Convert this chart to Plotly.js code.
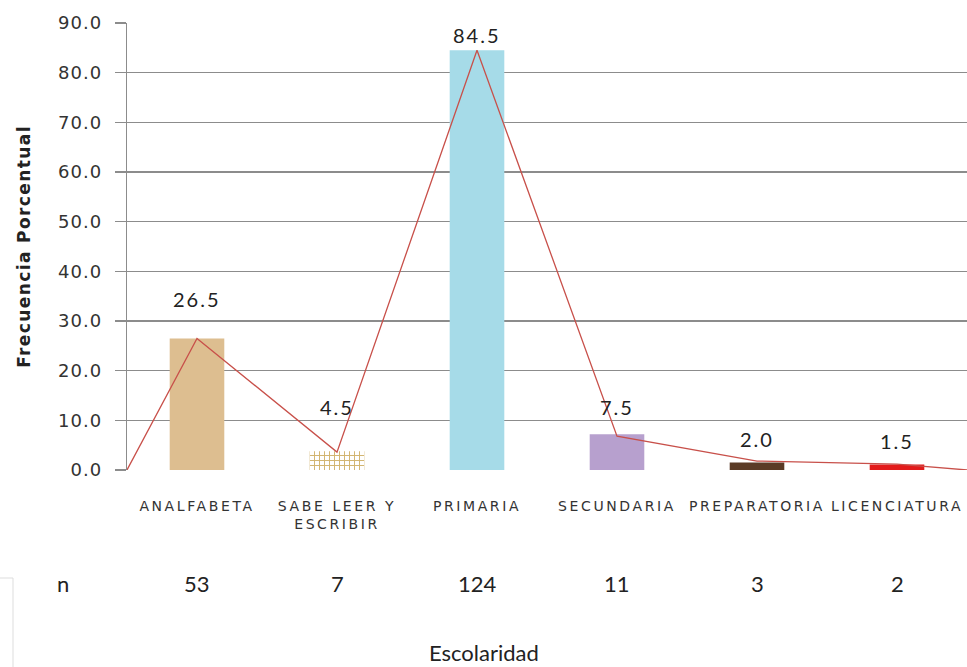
<!DOCTYPE html>
<html><head><meta charset="utf-8">
<script src="https://cdn.plot.ly/plotly-3.0.1.min.js"></script>
<style>
html,body{margin:0;padding:0;background:#fff}
#chart{width:967px;height:667px}
#chart .xtick text{letter-spacing:2.6px}
#chart .ytick text{letter-spacing:1px}
#chart .ytitle{letter-spacing:1.4px}
#chart .annotation.lbl text{letter-spacing:2px}
</style>
</head><body><div id="chart"></div>
<script>
// Data
const categories = ["ANALFABETA", "SABE LEER Y<br>ESCRIBIR", "PRIMARIA", "SECUNDARIA", "PREPARATORIA", "LICENCIATURA"];
const barHeights = [26.5, 3.8, 84.5, 7.2, 1.5, 1.1];
const labelText = ["26.5", "4.5", "84.5", "7.5", "2.0", "1.5"];
const nValues = ["53", "7", "124", "11", "3", "2"];
const polygonX = [-0.5, 0, 1, 2, 3, 4, 5, 5.5];
const polygonY = [0, 26.5, 3.6, 84.5, 6.8, 1.8, 1.2, 0];

const xIdx = categories.map((c, i) => i);
const barColors = ["#DDBE90", "#D2B46E", "#A6DBE8", "#B7A0CE", "#5B3B26", "#E31B1B"];
const patShapes = ["", "+", "", "", "", ""];
const patFg = ["#C9A676", "#6B5020", "#7FC6D8", "#B7A0CE", "#3A2415", "#E31B1B"];
const labelShift = [25, 30, 1, 13, 10, 10];

const fontLabel = "Lato, Open Sans, sans-serif";
const fontVerd = "DejaVu Sans, Verdana, sans-serif";
const fontTick = "DejaVu Sans, sans-serif";

const traces = [
  {
    type: "bar", x: xIdx, y: barHeights, width: 0.39,
    marker: {color: barColors, line: {width: 0},
      pattern: {shape: patShapes, fgcolor: patFg, bgcolor: barColors, size: 5, solidity: 0.35}},
    hoverinfo: "skip", showlegend: false
  },
  {
    type: "scatter", mode: "lines", x: polygonX, y: polygonY,
    line: {color: "#C8504A", width: 1.3}, cliponaxis: false,
    hoverinfo: "skip", showlegend: false
  }
];

const annotations = [];
xIdx.forEach(i => {
  annotations.push({x: i, y: barHeights[i], xref: "x", yref: "y", text: labelText[i],
    showarrow: false, yanchor: "bottom", yshift: labelShift[i],
    font: {family: fontLabel, size: 20, color: "#222"}});
  annotations.push({x: i, y: 0, xref: "x", yref: "paper", text: nValues[i],
    showarrow: false, yanchor: "middle", yshift: -113,
    font: {family: fontLabel, size: 22, color: "#222"}});
});
annotations.push({x: -0.0857, y: 0, xref: "paper", yref: "paper", text: "n",
  showarrow: false, yanchor: "middle", yshift: -113,
  font: {family: fontLabel, size: 22, color: "#222"}});
annotations.push({x: 0.425, y: 0, xref: "paper", yref: "paper", text: "Escolaridad",
  showarrow: false, yanchor: "middle", yshift: -182,
  font: {family: fontLabel, size: 22, color: "#222"}});

const layout = {
  width: 967, height: 667,
  margin: {l: 127, r: 0, t: 23, b: 197},
  paper_bgcolor: "#fff", plot_bgcolor: "#fff",
  xaxis: {
    range: [-0.5, 5.5], tickvals: xIdx, ticktext: categories,
    showgrid: false, zeroline: false, showline: false, ticks: "",
    ticklabelstandoff: 26,
    tickfont: {family: fontTick, size: 14, color: "#333"}
  },
  yaxis: {
    range: [0, 90], dtick: 10, tickformat: ".1f",
    showgrid: true, gridcolor: "#8c8c8c", gridwidth: 1.3,
    zeroline: false, showline: true, linecolor: "#8c8c8c", linewidth: 1.3,
    ticks: "outside", ticklen: 11, tickcolor: "#8c8c8c", tickwidth: 1.3,
    ticklabelstandoff: 9,
    tickfont: {family: fontVerd, size: 18, color: "#333"},
    title: {text: "Frecuencia Porcentual", standoff: 27,
      font: {family: fontVerd, size: 17, color: "#222", weight: "bold"}}
  },
  annotations: annotations,
  shapes: [
    {type: "line", xref: "paper", yref: "paper", x0: (0 - 127) / 840, x1: (13 - 127) / 840,
      y0: (470 - 578) / 447, y1: (470 - 578) / 447, line: {color: "#ddd", width: 1}},
    {type: "line", xref: "paper", yref: "paper", x0: (13 - 127) / 840, x1: (13 - 127) / 840,
      y0: (470 - 578) / 447, y1: (470 - 667) / 447, line: {color: "#ddd", width: 1}}
  ]
};

Plotly.newPlot("chart", traces, layout, {staticPlot: true, displayModeBar: false}).then(gd => {
  // tag the value-label annotations so the CSS letter spacing applies to them
  const groups = gd.querySelectorAll(".annotation");
  groups.forEach((g, k) => { if (k < 12 && k % 2 === 0) g.classList.add("lbl"); });
});
</script>
</body></html>
